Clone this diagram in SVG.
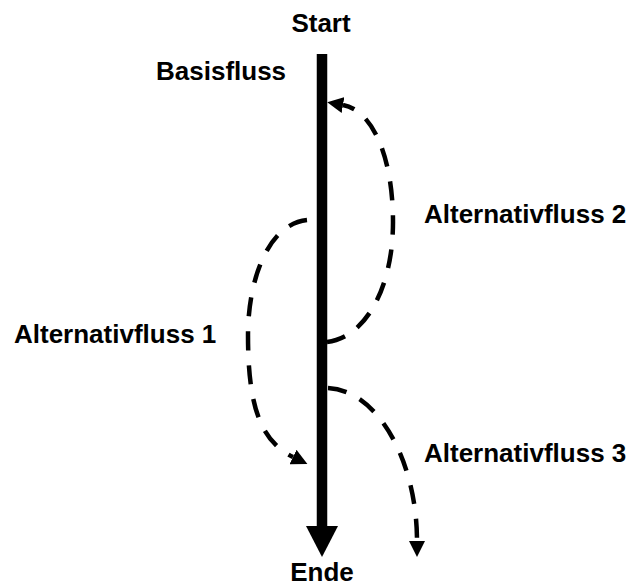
<svg xmlns="http://www.w3.org/2000/svg" width="632" height="586" viewBox="0 0 632 586">
  <defs>
    <style>
      .lbl { font-family: "Liberation Sans", Arial, sans-serif; font-weight: bold; font-size: 26px; fill: #000; }
      .alt { fill: none; stroke: #000; stroke-width: 4.5; stroke-dasharray: 19 15; }
      .main { fill: none; stroke: #000; stroke-width: 10.5; }
    </style>
    <marker id="ah" viewBox="0 0 16 16" refX="0" refY="8" markerWidth="16" markerHeight="16" markerUnits="userSpaceOnUse" orient="auto">
      <path d="M0,0 L16,8 L0,16 Z" fill="#000"/>
    </marker>
  </defs>
  <rect width="632" height="586" fill="#fff"/>

  <g id="start"><text class="lbl" x="321" y="32" text-anchor="middle">Start</text></g>
  <g id="basisfluss"><text class="lbl" x="156" y="80">Basisfluss</text></g>
  <g id="alt2"><text class="lbl" x="424" y="223">Alternativfluss 2</text></g>
  <g id="alt1"><text class="lbl" x="14" y="343">Alternativfluss 1</text></g>
  <g id="alt3"><text class="lbl" x="424" y="462">Alternativfluss 3</text></g>
  <g id="ende"><text class="lbl" x="322" y="581" text-anchor="middle">Ende</text></g>

  <g id="connectors">
    <line class="main" x1="322" y1="54" x2="322" y2="527"/>
    <polygon points="306,526 338,526 322,557" fill="#000"/>
    <path class="alt" d="M327,342 C 364,338 393,290 393,222 C 393,156 372,110 343,105" marker-end="url(#ah)"/>
    <path class="alt" d="M307,220 C 268,224 248,280 248,335 C 248,400 258,440 293,457" marker-end="url(#ah)"/>
    <path class="alt" d="M328,388 C 377,390 417,460 417,541" marker-end="url(#ah)"/>
  </g>
</svg>
